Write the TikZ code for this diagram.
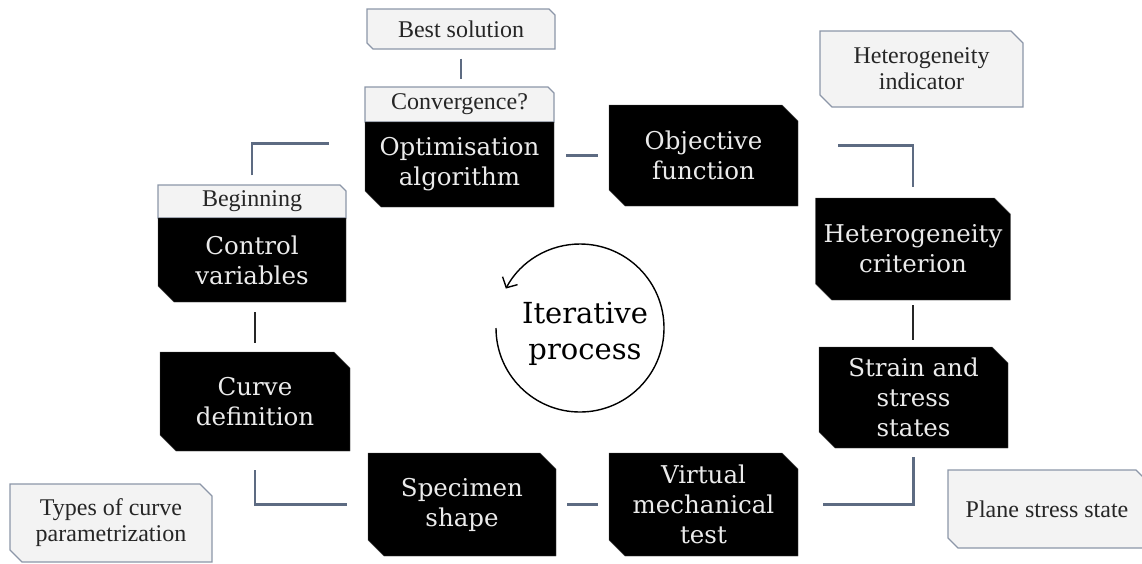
\documentclass[tikz,border=0pt]{standalone}
\usepackage{fontspec}
\setmainfont{DejaVu Serif}
\newfontfamily\paleserif{Liberation Serif}
\usetikzlibrary{shapes.misc}
\usetikzlibrary{arrows.meta}
\definecolor{slate}{RGB}{93,107,130}
\definecolor{paleedge}{RGB}{140,150,168}
\definecolor{palefill}{RGB}{243,243,243}

\begin{document}
\begin{tikzpicture}[x=1pt,y=-1pt,
    blk/.style={chamfered rectangle, chamfered rectangle corners={north east,south west},
      chamfered rectangle sep=8pt, fill=black, draw=black!70, text=white!92!black,
      align=center, inner sep=0pt, font=\fontsize{24.5}{30}\selectfont},
    pale/.style={chamfered rectangle, chamfered rectangle corners={north east,south west},
      chamfered rectangle sep=6pt, fill=palefill, draw=paleedge, line width=1.3pt,
      align=center, inner sep=0pt, text=black!85, font=\paleserif\fontsize{24}{26}\selectfont},
    link/.style={draw=slate, line width=2.6pt},
    darklink/.style={draw=black!85, line width=2.6pt},
    turnarc/.style={line width=1.4pt, -{Straight Barb[length=8pt,width=17pt]}}]
    \useasboundingbox (0,0) rectangle (1142,563);
		\path (461,29) node(best)[pale, minimum width=188pt, minimum height=40pt, chamfered rectangle sep=3pt]{Best solution}
		(459.5,104.5) node(conv)[pale, minimum width=189pt, minimum height=35pt, chamfered rectangle sep=3pt, chamfered rectangle corners=north east]{Convergence?}
		(459.5,164.5) node(optim)[blk, minimum width=189pt, minimum height=85pt, chamfered rectangle corners=south west]{Optimisation\\algorithm}
		(703.5,155.5) node(objf)[blk, minimum width=189pt, minimum height=101pt]{Objective\\function}
		(921.5,69) node(hind)[pale, minimum width=203pt, minimum height=76pt]{Heterogeneity\\indicator}
		(913,249) node(hcrit)[blk, minimum width=190pt, minimum height=102pt]{Heterogeneity\\criterion}
		(913.5,397.5) node(strain)[blk, minimum width=189pt, minimum height=101pt]{Strain and\\stress\\states}
		(1047,509) node(plane)[pale, minimum width=198pt, minimum height=78pt, chamfered rectangle sep=5pt]{Plane stress state}
		(703.5,504.5) node(virt)[blk, minimum width=189pt, minimum height=103pt]{Virtual\\mechanical\\test}
		(462,504.5) node(spec)[blk, minimum width=188pt, minimum height=103pt]{Specimen\\shape}
		(111,523) node(types)[pale, minimum width=202pt, minimum height=78pt]{Types of curve\\parametrization}
		(255,401.5) node(curve)[blk, minimum width=190pt, minimum height=99pt]{Curve\\definition}
		(252,201.5) node(begin)[pale, minimum width=188pt, minimum height=33pt, chamfered rectangle sep=3pt, chamfered rectangle corners=north east]{Beginning}
		(252,260) node(ctrl)[blk, minimum width=188pt, minimum height=84pt, chamfered rectangle corners=south west]{Control\\variables}
		(585,334) node(iter)[align=center, font=\fontsize{29}{36}\selectfont]{Iterative\\process};
		\draw[link, shorten <=9pt, shorten >=7pt] (best.south) -- (best.south |- conv.north);
		\draw[link, shorten <=12pt, shorten >=11pt] (optim.east |- objf.west) -- (objf.west);
		\draw[link] ([xshift=40pt,yshift=10pt]objf.east) -| ([yshift=11pt]hcrit.north);
		\draw[darklink, shorten <=5pt, shorten >=7pt] (hcrit.south) -- (hcrit.south |- strain.north);
		\draw[link] ([yshift=-9pt]strain.south) |- ([xshift=25pt]virt.east);
		\draw[link, shorten <=11pt, shorten >=11pt] (virt.west) -- (spec.east);
		\draw[link] ([xshift=-21pt]spec.west) -| ([yshift=-19pt]curve.south);
		\draw[darklink, shorten <=9pt, shorten >=10pt] (curve.north) -- (curve.north |- ctrl.south);
		\draw[link] ([yshift=9pt]begin.north) |- ([xshift=-36pt,yshift=21pt]optim.west);
		\draw[turnarc] ([xshift=-5pt,yshift=6pt]iter.center) ++(180:84pt) arc[start angle=180, end angle=512, radius=84pt];
 \end{tikzpicture}
\end{document}
